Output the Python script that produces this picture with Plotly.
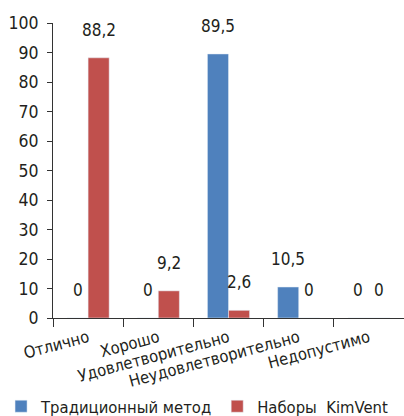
import plotly.graph_objects as go

categories = ["Отлично", "Хорошо", "Удовлетворительно", "Неудовлетворительно", "Недопустимо"]
traditional = [0, 0, 89.5, 10.5, 0]
kimvent = [88.2, 9.2, 2.6, 0, 0]
series_names = ["Традиционный метод", "Наборы  KimVent"]
y_ticks = [0, 10, 20, 30, 40, 50, 60, 70, 80, 90, 100]

FONT = "DejaVu Sans Condensed, Liberation Sans Narrow, sans-serif"
TXT = "#231F20"
BLUE = "#4F81BD"
RED = "#C0504D"

fig = go.Figure()
fig.add_trace(go.Bar(x=categories, y=traditional, name=series_names[0], marker_color=BLUE))
fig.add_trace(go.Bar(x=categories, y=kimvent, name=series_names[1], marker_color=RED))

def fmt(v):
    return f"{v:g}".replace(".", ",")

annotations = []
for vals, shift in ((traditional, -10.5), (kimvent, 10.5)):
    for c, v in zip(categories, vals):
        annotations.append(dict(
            x=c, y=v, text=fmt(v), showarrow=False, xshift=shift, yshift=28,
            xanchor="center", yanchor="middle",
            font=dict(family=FONT, size=17, color=TXT)))

fig.update_layout(
    width=404, height=416,
    margin=dict(l=53, r=0, t=23, b=98, autoexpand=False),
    paper_bgcolor="white", plot_bgcolor="white",
    barmode="group", bargap=0.4, bargroupgap=0,
    font=dict(family=FONT, size=17, color=TXT),
    showlegend=True,
    legend=dict(orientation="h", x=-0.148, xanchor="left", y=-0.30, yanchor="middle",
                font=dict(family=FONT, size=16.5, color=TXT),
                itemclick=False, tracegroupgap=0),
    annotations=annotations,
    xaxis=dict(type="category", showline=True, linecolor="#333333", linewidth=1,
               ticks="outside", tickson="boundaries", ticklen=8, tickcolor="#333333",
               tickangle=-15, tickfont=dict(family=FONT, size=16.5, color=TXT),
               ticklabelstandoff=3, automargin=False,
               showgrid=False, zeroline=False, range=[-0.5, 4.5]),
    yaxis=dict(range=[0, 100], tickvals=y_ticks, showline=True, linecolor="#333333",
               linewidth=1, ticks="outside", ticklen=5, tickcolor="#333333",
               tickfont=dict(family=FONT, size=17.5, color=TXT),
               ticklabelstandoff=5, automargin=False,
               showgrid=False, zeroline=False),
)

fig.write_html("out.html")
